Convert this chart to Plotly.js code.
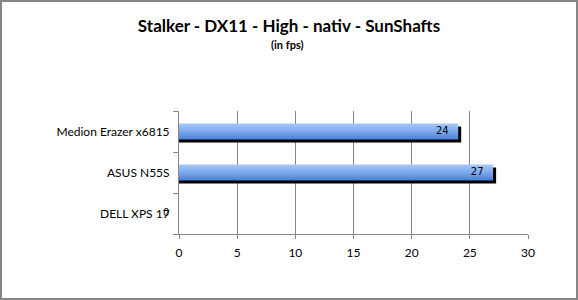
<!DOCTYPE html>
<html>
<head>
<meta charset="utf-8">
<script src="https://cdn.plot.ly/plotly-3.0.1.min.js"></script>
<style>
  html, body { margin: 0; padding: 0; background: #fff; }
  #wrap { position: relative; width: 578px; height: 300px; }
  #chart { width: 578px; height: 300px; }
  #frame { position: absolute; left: 0; top: 0; width: 578px; height: 300px; box-sizing: border-box; border: 2px solid #868686; pointer-events: none; }
</style>
</head>
<body>
<div id="wrap"><div id="chart"></div><div id="frame"></div></div>
<script>
// Data (bottom to top order as Plotly draws categories)
const categories = ['DELL XPS 17', 'ASUS N55S', 'Medion Erazer x6815'];
const fps = [0, 27, 24];
const titleText = 'Stalker - DX11 - High - nativ - SunShafts';
const subtitleText = '(in fps)';
const xTicks = [0, 5, 10, 15, 20, 25, 30];

const labelFont = 'Lato, "Open Sans", "DejaVu Sans", sans-serif';

const shadow = {
  type: 'bar', orientation: 'h', y: categories, x: fps,
  width: 0.244, offset: -0.195,
  marker: { color: '#000000', line: { color: '#000000', width: fps.map(v => v > 0 ? 6 : 0) } },
  hoverinfo: 'skip', showlegend: false
};
const main = {
  type: 'bar', orientation: 'h', y: categories, x: fps,
  width: 0.39, offset: -0.195,
  marker: { color: '#7BA6EA', line: { width: 0 } },
  hoverinfo: 'skip', showlegend: false
};
const labels = {
  type: 'scatter', mode: 'text', y: categories, x: fps,
  text: fps.map(v => String(v) + '\u00a0\u00a0\u00a0'),
  textposition: 'middle left',
  textfont: { family: '"DejaVu Sans", sans-serif', size: 10, color: '#000000' },
  cliponaxis: false, hoverinfo: 'skip', showlegend: false
};

const layout = {
  width: 578, height: 300,
  margin: { l: 179, r: 50, t: 111, b: 66 },
  paper_bgcolor: '#ffffff', plot_bgcolor: '#ffffff',
  barmode: 'overlay',
  font: { family: labelFont, size: 12, color: '#000000' },
  title: {
    text: '<b>' + titleText + '</b>',
    font: { family: labelFont, size: 17, color: '#000000' },
    x: 0.5, xref: 'container', y: 1 - 26 / 300, yref: 'container', yanchor: 'middle'
  },
  annotations: [{
    text: '<b>' + subtitleText + '</b>', showarrow: false,
    xref: 'paper', yref: 'paper', x: 0.311, y: 1.537, xanchor: 'center', yanchor: 'middle',
    font: { family: labelFont, size: 11, color: '#000000' }
  }],
  xaxis: {
    range: [0, 30], tickvals: xTicks, ticktext: xTicks.map(String),
    showgrid: true, gridcolor: '#868686', gridwidth: 1,
    showline: true, linecolor: '#868686', linewidth: 1,
    ticks: 'outside', ticklen: 4, tickcolor: '#868686',
    zeroline: false, fixedrange: true,
    tickfont: { family: labelFont, size: 12, color: '#000000' },
    ticklabelstandoff: 4
  },
  yaxis: {
    type: 'category', categoryorder: 'array', categoryarray: categories,
    showgrid: false, showline: true, linecolor: '#868686', linewidth: 1,
    ticks: 'outside', ticklen: 5, tickcolor: '#868686', tickson: 'boundaries',
    zeroline: false, fixedrange: true,
    tickfont: { family: labelFont, size: 12, color: '#000000' },
    ticklabelstandoff: 6
  }
};

Plotly.newPlot('chart', [shadow, main, labels], layout, { staticPlot: true, displayModeBar: false }).then(function (gd) {
  const svg = gd.querySelector('svg.main-svg');
  const ns = 'http://www.w3.org/2000/svg';
  let defs = svg.querySelector('defs');
  if (!defs) { defs = document.createElementNS(ns, 'defs'); svg.insertBefore(defs, svg.firstChild); }
  const grad = document.createElementNS(ns, 'linearGradient');
  grad.setAttribute('id', 'barGrad');
  grad.setAttribute('x1', '0'); grad.setAttribute('y1', '0');
  grad.setAttribute('x2', '0'); grad.setAttribute('y2', '1');
  [['0', '#A6C9FB'], ['0.5', '#7CA8EC'], ['1', '#4A80D4']].forEach(function (s) {
    const st = document.createElementNS(ns, 'stop');
    st.setAttribute('offset', s[0]); st.setAttribute('stop-color', s[1]);
    grad.appendChild(st);
  });
  defs.appendChild(grad);
  const traces = gd.querySelectorAll('.barlayer .trace');
  if (traces.length > 1) {
    traces[1].querySelectorAll('path').forEach(function (p) { p.style.fill = 'url(#barGrad)'; });
  }
});
</script>
</body>
</html>
